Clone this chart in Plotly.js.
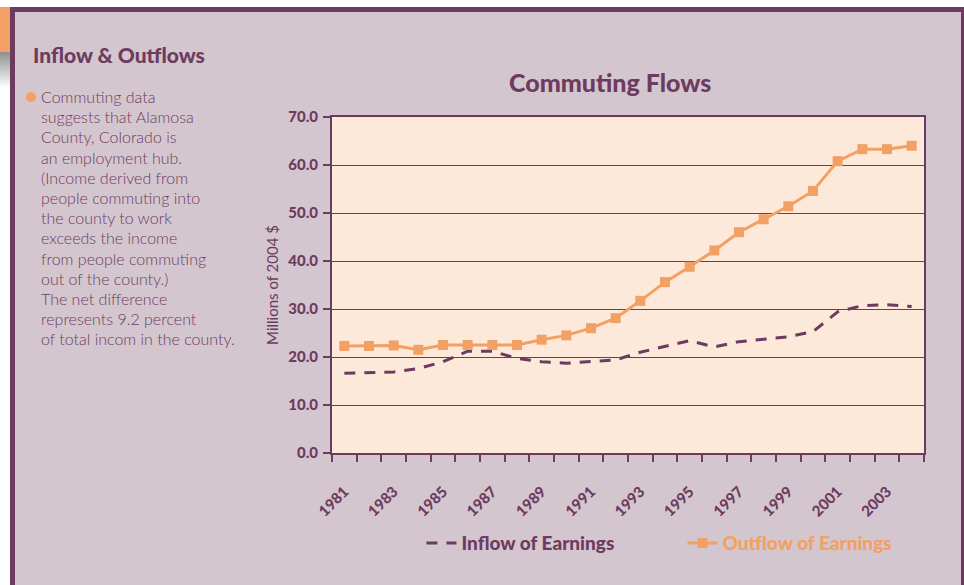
<!DOCTYPE html>
<html>
<head>
<meta charset="utf-8">
<script src="https://cdn.plot.ly/plotly-3.0.1.min.js"></script>
<style>
    body { margin: 0; width: 964px; height: 585px; overflow: hidden; background: #ffffff; font-family: Lato, "DejaVu Sans", sans-serif; }
    #frame { position: absolute; left: 10px; top: 7px; width: 954px; height: 578px; background: #d3c6ce;
             border-top: 5px solid #6d3b5f; border-left: 5px solid #6d3b5f; box-sizing: border-box; }
    #frame-right { position: absolute; left: 961px; top: 7px; width: 3px; height: 578px; background: #6d3b5f; }
    #tab { position: absolute; left: 0; top: 7px; width: 10px; height: 45px; background: #f2a063; }
    #shade { position: absolute; left: 0; top: 52px; width: 10px; height: 36px; background: linear-gradient(#8f8f8f, #ffffff); }
    #heading { position: absolute; left: 33px; top: 42px; color: #6d3b5f; font-weight: 900; font-size: 21px; }
    #bullet { position: absolute; left: 26px; top: 92px; width: 10px; height: 10px; border-radius: 50%; background: #f2a063; }
    #note { position: absolute; left: 41px; top: 87px; color: #6d3b5f; font-size: 16px; font-weight: 300; line-height: 20.2px; }
    #chart { position: absolute; left: 0; top: 0; width: 964px; height: 585px; }
</style>
</head>
<body>
<div id="frame"></div>
<div id="frame-right"></div>
<div id="tab"></div>
<div id="shade"></div>
<div id="heading">Inflow &amp; Outflows</div>
<div id="bullet"></div>
<div id="note">
Commuting data<br>
suggests that Alamosa<br>
County, Colorado is<br>
an employment hub.<br>
(Income derived from<br>
people commuting into<br>
the county to work<br>
exceeds the income<br>
from people commuting<br>
out of the county.)<br>
The net difference<br>
represents 9.2 percent<br>
of total incom in the county.
</div>
<div id="chart"></div>
<script>
// Commuting flows, millions of 2004 $
const years = [1981, 1982, 1983, 1984, 1985, 1986, 1987, 1988, 1989, 1990, 1991, 1992,
               1993, 1994, 1995, 1996, 1997, 1998, 1999, 2000, 2001, 2002, 2003, 2004];
const inflow = [16.6, 16.8, 16.9, 17.6, 19.0, 21.2, 21.2, 19.7, 19.0, 18.7, 19.0, 19.4,
                21.0, 22.2, 23.4, 22.1, 23.2, 23.7, 24.2, 25.3, 29.4, 30.7, 30.9, 30.5];
const outflow = [22.3, 22.3, 22.4, 21.5, 22.5, 22.5, 22.5, 22.5, 23.6, 24.5, 26.0, 28.1,
                 31.7, 35.6, 38.8, 42.2, 46.0, 48.7, 51.4, 54.6, 60.8, 63.3, 63.3, 64.0];
const yearLabels = ['1981', '1983', '1985', '1987', '1989', '1991', '1993', '1995', '1997', '1999', '2001', '2003'];

const purple = '#6d3b5f';
const orange = '#f2a063';

Plotly.newPlot('chart', [{
    x: years,
    y: inflow,
    type: 'scatter',
    mode: 'lines',
    name: '<span style="color:' + purple + '">Inflow of Earnings</span>',
    line: { color: purple, width: 3, dash: '11px,9px' }
}, {
    x: years,
    y: outflow,
    type: 'scatter',
    mode: 'lines+markers',
    name: '<span style="color:' + orange + '">Outflow of Earnings</span>',
    line: { color: orange, width: 3 },
    marker: { symbol: 'square', size: 10, color: orange }
}], {
    width: 964,
    height: 585,
    paper_bgcolor: 'rgba(0,0,0,0)',
    plot_bgcolor: '#fde9d9',
    margin: { l: 332, r: 39.5, t: 117, b: 132 },
    font: { family: 'Lato, "DejaVu Sans", sans-serif', color: purple },
    title: {
        text: 'Commuting Flows',
        font: { size: 25, color: purple, weight: 900 },
        x: 0.633, xanchor: 'center',
        y: 1 - 83 / 585, yref: 'container', yanchor: 'middle'
    },
    xaxis: {
        range: [1980.5, 2004.5],
        tickvals: yearLabels.map(Number),
        ticktext: yearLabels,
        tickangle: -45,
        tickfont: { size: 15, color: purple, weight: 900 },
        ticklabelstandoff: 22,
        ticks: '',
        minor: { tick0: 1980.5, dtick: 1, ticks: 'outside', ticklen: 7, tickwidth: 2, tickcolor: purple, showgrid: false },
        showgrid: false,
        zeroline: false,
        showline: true, linecolor: purple, linewidth: 2, mirror: true,
        automargin: false
    },
    yaxis: {
        range: [0, 70],
        dtick: 10,
        tickformat: '.1f',
        tickfont: { size: 15, color: purple, weight: 900 },
        ticklabelstandoff: 2,
        ticks: 'outside', ticklen: 7, tickwidth: 2, tickcolor: purple,
        showgrid: true, gridcolor: purple, gridwidth: 1,
        zeroline: false,
        showline: true, linecolor: purple, linewidth: 2, mirror: true,
        title: { text: 'Millions of 2004 $', font: { size: 15, color: purple }, standoff: 6 },
        automargin: false
    },
    showlegend: true,
    legend: {
        orientation: 'h',
        x: 0.592, xanchor: 'center',
        y: -0.268, yanchor: 'middle',
        entrywidth: 216, entrywidthmode: 'pixels',
        font: { size: 19, weight: 900 },
        bgcolor: 'rgba(0,0,0,0)'
    }
}, { staticPlot: true });
</script>
</body>
</html>
